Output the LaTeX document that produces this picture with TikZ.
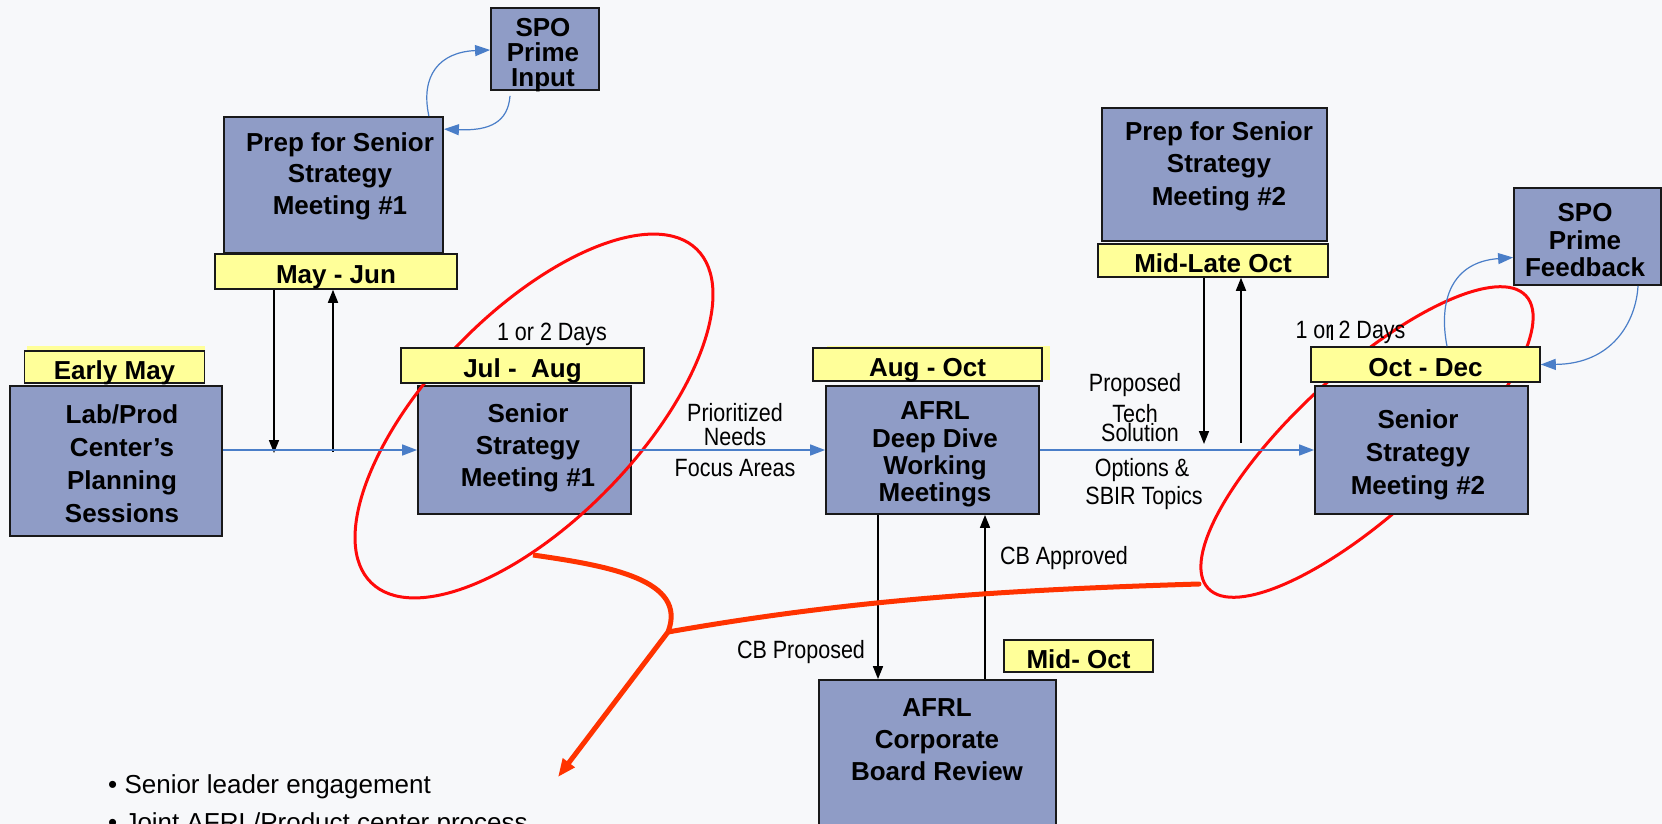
\documentclass[tikz,border=0pt]{standalone}
\usepackage{fontspec}
\setmainfont{Liberation Sans}
\newfontfamily\narrowfont[FakeStretch=0.86]{Liberation Sans}
\usetikzlibrary{arrows.meta}
\definecolor{bgc}{RGB}{247,248,250}
\definecolor{boxblue}{RGB}{143,156,198}
\definecolor{labyel}{RGB}{255,255,153}
\definecolor{arrblue}{RGB}{74,126,200}
\definecolor{ellred}{RGB}{255,10,10}
\definecolor{conred}{RGB}{255,51,0}
\tikzset{
  box/.style={draw=black!90, line width=1.8pt, fill=boxblue, inner sep=0pt},
  datebox/.style={draw=black!90, line width=1.5pt, fill=labyel, inner sep=0pt,
    font=\bfseries\fontsize{26}{30}\selectfont, text height=24pt, text depth=0pt},
  boxtext/.style={font=\bfseries\fontsize{26}{#1}\selectfont, align=center, inner sep=0pt},
  boxtext/.default=31,
  lbl/.style={font=\narrowfont\fontsize{25}{#1}\selectfont, align=center, inner sep=0pt},
  lbl/.default=25,
  blueflow/.style={draw=arrblue, line width=1.5pt, -{Triangle[length=15pt,width=11pt]}},
  blackflow/.style={draw=black, line width=1.6pt, -{Triangle[length=13pt,width=10pt]}},
  ring/.style={draw=ellred, line width=3pt},
  callout/.style={draw=conred, line width=5pt},
}
\begin{document}
\begin{tikzpicture}[x=1pt,y=-1pt]
\useasboundingbox (0,0) rectangle (1662,824);
\fill[bgc] (0,0) rectangle (1662,824);
% offset yellow fills
\fill[labyel] (27,346) rectangle (204.5,378);
\fill[labyel] (827,346) rectangle (1050,380);

% right ring (behind boxes)
\draw[ring, rotate around={42.6:(1367,442)}] (1367,442) ellipse [x radius=216, y radius=71];

% boxes
\node[box, minimum width=108pt, minimum height=82pt] (spoIn) at (545,49) {};
\node[box, minimum width=219pt, minimum height=136pt] (prep1) at (333.5,185) {};
\node[box, minimum width=212pt, minimum height=150pt] (lab) at (116,461) {};
\node[box, minimum width=213pt, minimum height=128pt] (ssm1) at (524.5,450) {};
\node[box, minimum width=213pt, minimum height=128pt] (afrl) at (932.5,450) {};
\node[box, minimum width=237pt, minimum height=170pt] (corp) at (937.5,765) {};
\node[box, minimum width=225pt, minimum height=133pt] (prep2) at (1214.5,174.5) {};
\node[box, minimum width=147pt, minimum height=97pt] (spofb) at (1587.5,236.5) {};
\node[box, minimum width=213pt, minimum height=128pt] (ssm2) at (1421.5,450) {};

% box texts
\node[boxtext=25] (tSpoIn) at (543,55) {SPO\\Prime\\Input};
\node[boxtext=31.5] (tPrep1) at (340,176) {Prep for Senior\\Strategy\\Meeting \#1};
\node[boxtext=33] (tLab) at (122,464) {Lab/Prod\\Center’s\\Planning\\Sessions};
\node[boxtext=32] (tSsm1) at (528,447.5) {Senior\\Strategy\\Meeting \#1};
\node[boxtext=27.3] (tAfrl) at (935,454.5) {AFRL\\Deep Dive\\Working\\Meetings};
\node[boxtext=32] (tCorp) at (937,740) {AFRL\\Corporate\\Board Review};
\node[boxtext=32.5] (tPrep2) at (1219,166) {Prep for Senior\\Strategy\\Meeting \#2};
\node[boxtext=27.5] (tSpoFb) at (1585,240.5) {SPO\\Prime\\Feedback};
\node[boxtext=33] (tSsm2) at (1418,454.5) {Senior\\Strategy\\Meeting \#2};

% left ring (over its box, under its date label)
\draw[ring, rotate around={45.7:(534,416)}] (534,416) ellipse [x radius=233, y radius=104];

% date labels
\node[datebox, minimum width=242pt, minimum height=35pt] (mayjun) at (336,271.5) {May - Jun};
\node[datebox, minimum width=180pt, minimum height=32pt] (earlymay) at (114.5,367) {Early May};
\node[datebox, minimum width=243pt, minimum height=35pt] (julaug) at (522.5,365.5) {Jul -\ \ Aug};
\node[datebox, minimum width=229pt, minimum height=33pt] (augoct) at (927.5,364.5) {Aug - Oct};
\node[datebox, minimum width=149pt, minimum height=32pt] (midoct) at (1078.5,656) {Mid- Oct};
\node[datebox, minimum width=230pt, minimum height=33pt] (midlate) at (1213,260.5) {Mid-Late Oct};
\node[datebox, minimum width=229pt, minimum height=35pt] (octdec) at (1425.5,364.5) {Oct - Dec};

% labels
\node[lbl=24] (lPrio) at (735,425) {Prioritized\\Needs};
\node[lbl] (lFocus) at (735,468) {Focus Areas};
\node[lbl] (lProp) at (1135,385.5) {Proposed};
\node[lbl] (lTech) at (1135,414) {Tech};
\node[lbl] (lSol) at (1140,433) {Solution};
\node[lbl] (lOpt) at (1142,470.5) {Options \&};
\node[lbl] (lSbir) at (1144,498.5) {SBIR Topics};
\node[lbl] (lCBP) at (801,652.5) {CB Proposed};
\node[lbl] (lCBA) at (1064,558.5) {CB Approved};
\node[lbl] (lDays1) at (552,334.5) {1 or 2 Days};
\node[lbl] (lDays2) at (1350.5,332.5) {1 or 2 Days};
\draw[line width=1.3pt] (1332,325) -- (1332,340);

% bullets
\node[anchor=base west, inner sep=0pt, font=\fontsize{26}{38}\selectfont] (b1) at (108,793) {• Senior leader engagement};
\node[anchor=base west, inner sep=0pt, font=\fontsize{26}{38}\selectfont] (b2) at (108,831) {• Joint AFRL/Product center process};

% coordinates for free ends
\coordinate (dnMJ) at (274,453);
\coordinate (upMJ) at (333,452);
\coordinate (dnML) at (1204,444);
\coordinate (upML) at (1241,443);
\coordinate (xdn) at (878,0);
\coordinate (xup) at (985,0);

% black arrows
\draw[blackflow] (mayjun.south -| dnMJ) -- (dnMJ);
\draw[blackflow] (upMJ) -- (mayjun.south -| upMJ);
\draw[blackflow] (midlate.south -| dnML) -- (dnML);
\draw[blackflow] (upML) -- (midlate.south -| upML);
\draw[blackflow] (afrl.south -| xdn) -- (corp.north -| xdn);
\draw[blackflow] (corp.north -| xup) -- (afrl.south -| xup);

% blue flow arrows
\draw[blueflow] (lab.east |- ssm1.west) -- (ssm1.west);
\draw[blueflow] (ssm1.east) -- (afrl.west);
\draw[blueflow] (afrl.east) -- (ssm2.west);

% blue curved arrows
\draw[blueflow, line width=1.2pt] ([xshift=-15pt]prep1.north east) .. controls (420,75) and (440,52) .. ([yshift=-1pt]spoIn.west);
\draw[blueflow, line width=1.2pt] ([xshift=-35pt,yshift=-5pt]spoIn.south) .. controls (508,122) and (490,131) .. ([yshift=-13pt]prep1.north east);
\draw[blueflow, line width=1.2pt] ([xshift=21.5pt]octdec.north) .. controls (1438,300) and (1452,262) .. ([yshift=-21pt]spofb.west);
\draw[blueflow, line width=1.2pt] ([xshift=50.5pt]spofb.south) .. controls (1636,322) and (1612,364) .. (octdec.east);

% red callout connectors
\coordinate (e1p) at (533,555);
\coordinate (e2p) at (1199,584);
\coordinate (rj) at (668,632);
\coordinate (rtip) at (558,777);
\draw[callout, line cap=round] (e2p) .. controls (1000,590) and (850,600) .. (rj);
\draw[callout, -{Triangle[length=18pt,width=14pt]}] (e1p) .. controls (610,566) and (688,580) .. (rj) -- (rtip);
\end{tikzpicture}
\end{document}
